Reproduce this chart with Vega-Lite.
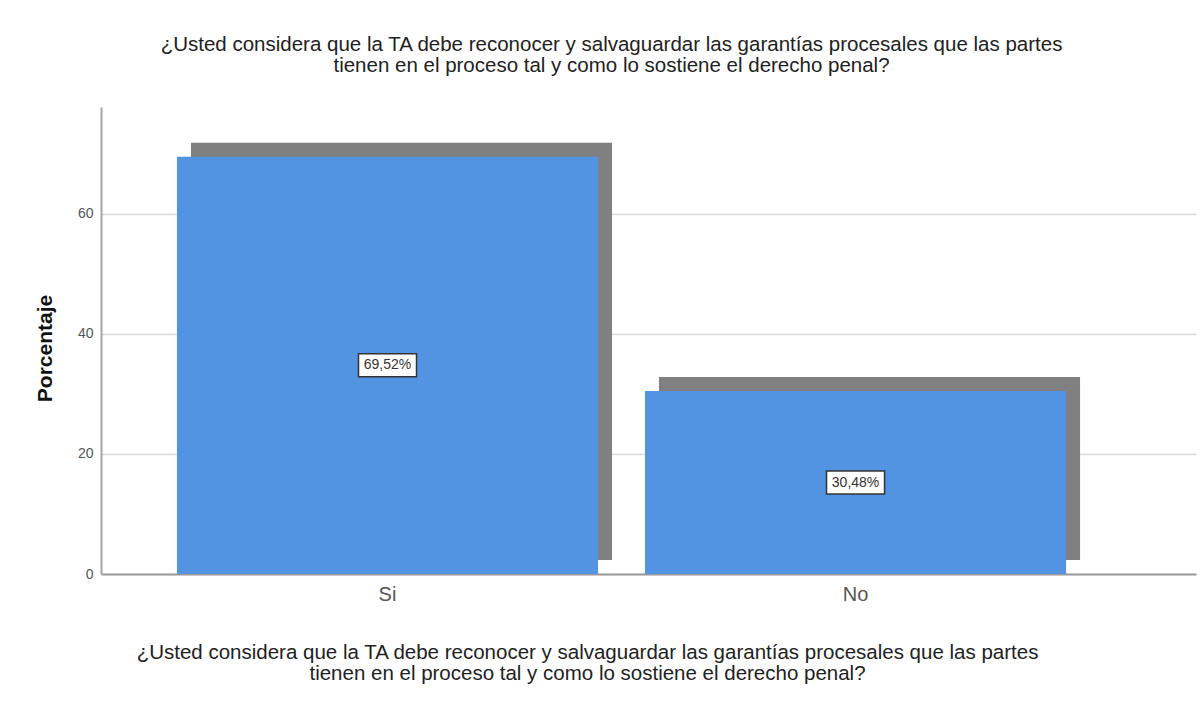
{
  "$schema": "https://vega.github.io/schema/vega-lite/v6.json",
  "autosize": "none",
  "width": 1095,
  "height": 467,
  "padding": {"left": 101, "top": 107, "right": 8, "bottom": 137},
  "background": "white",
  "config": {"font": "Liberation Sans", "view": {"stroke": null}},
  "title": {
    "text": ["¿Usted considera que la TA debe reconocer y salvaguardar las garantías procesales que las partes", "tienen en el proceso tal y como lo sostiene el derecho penal?"],
    "fontSize": 20.5,
    "fontWeight": "normal",
    "color": "#222222",
    "anchor": "middle",
    "frame": "group",
    "dx": -37,
    "offset": 31,
    "lineHeight": 21
  },
  "data": {
    "values": [
      {"respuesta": "Si", "porcentaje": 69.52, "etiqueta": "69,52%"},
      {"respuesta": "No", "porcentaje": 30.48, "etiqueta": "30,48%"}
    ]
  },
  "encoding": {
    "x": {
      "field": "respuesta",
      "type": "nominal",
      "sort": ["Si", "No"],
      "scale": {"paddingInner": 0.1004, "paddingOuter": 0.22, "align": 0.369},
      "axis": {
        "title": ["¿Usted considera que la TA debe reconocer y salvaguardar las garantías procesales que las partes", "tienen en el proceso tal y como lo sostiene el derecho penal?"],
        "titleFontSize": 20.5,
        "titleFontWeight": "normal",
        "titleColor": "#222222",
        "titleLineHeight": 21,
        "titleX": 486,
        "titleY": 68,
        "titleAlign": "center",
        "titleBaseline": "top",
        "labelAngle": 0,
        "labelFontSize": 20,
        "labelColor": "#555555",
        "labelPadding": 10,
        "ticks": false,
        "domainColor": "#9a9a9a",
        "domainWidth": 2,
        "grid": false
      }
    }
  },
  "layer": [
    {
      "encoding": {
        "y": {
          "field": "porcentaje",
          "type": "quantitative",
          "scale": {"domain": [0, 77.8], "nice": false},
          "axis": {
            "title": "Porcentaje",
            "titleFontSize": 21,
            "titleFontWeight": "bold",
            "titleColor": "#111111",
            "titleX": -56,
            "titleY": 241,
            "titleAlign": "center",
            "titleBaseline": "middle",
            "values": [0, 20, 40, 60],
            "labelFontSize": 14,
            "labelColor": "#555555",
            "labelPadding": 8,
            "ticks": false,
            "domainColor": "#a6a6a6",
            "domainWidth": 2,
            "grid": true,
            "gridColor": "#dadada",
            "gridWidth": 1.5
          }
        }
      },
      "layer": [
        {"mark": {"type": "bar", "color": "#808080", "xOffset": 14, "yOffset": -14, "y2Offset": -14}},
        {"mark": {"type": "bar", "color": "#5294e2"}}
      ]
    },
    {
      "layer": [
        {
          "mark": {"type": "point", "shape": "M-1,-0.397H1V0.397H-1Z", "size": 3364, "filled": true, "fill": "white", "stroke": "#333333", "strokeWidth": 1.5, "opacity": 1}
        },
        {
          "mark": {"type": "text", "fontSize": 14, "color": "#333333"},
          "encoding": {"text": {"field": "etiqueta"}}
        }
      ],
      "encoding": {
        "y": {"field": "porcentaje", "type": "quantitative", "scale": {"domain": [0, 155.6], "nice": false}, "axis": null}
      }
    }
  ],
  "resolve": {"scale": {"y": "independent"}}
}
